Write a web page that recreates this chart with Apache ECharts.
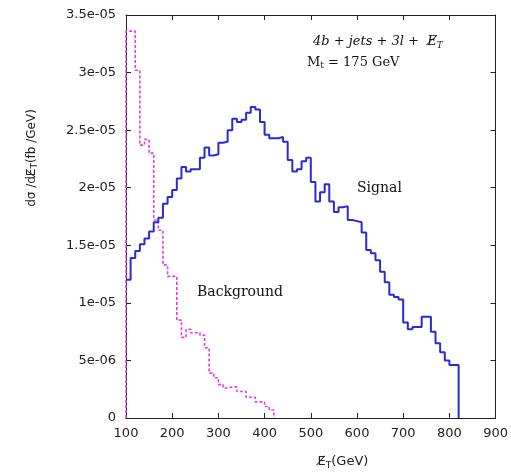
<!DOCTYPE html>
<html>
<head>
<meta charset="utf-8">
<script src="https://cdn.jsdelivr.net/npm/echarts@6/dist/echarts.min.js"></script>
<style>
html,body{margin:0;padding:0;background:#fff;}
#chart{width:511px;height:473px;}
</style>
</head>
<body>
<div id="chart"></div>
<script>
// ---- data (values in units of 1e-5 fb/GeV) ----
const xTicks = [100, 200, 300, 400, 500, 600, 700, 800, 900];
const yTickLabels = ['0', '5e-06', '1e-05', '1.5e-05', '2e-05', '2.5e-05', '3e-05', '3.5e-05'];

const signalBinStart = [100,110,120,130,140,150,160,170,180,190,
  200,210,220,230,240,250,260,270,280,290,
  300,310,320,330,340,350,360,370,380,390,
  400,410,420,430,440,450,460,470,480,490,
  500,510,520,530,540,550,560,570,580,590,
  600,610,620,630,640,650,660,670,680,690,
  700,710,720,730,740,750,760,770,780,790,
  800,810];
const signalEnd = 820;
const signal = [1.20,1.39,1.45,1.51,1.56,1.62,1.70,1.74,1.86,1.92,
  1.98,2.08,2.18,2.14,2.16,2.16,2.26,2.35,2.28,2.29,
  2.39,2.40,2.50,2.60,2.57,2.59,2.65,2.70,2.68,2.57,
  2.46,2.43,2.43,2.44,2.40,2.24,2.14,2.16,2.23,2.26,
  2.05,1.88,1.96,2.03,1.88,1.79,1.83,1.84,1.72,1.71,
  1.70,1.61,1.46,1.43,1.37,1.27,1.18,1.07,1.05,1.03,
  0.83,0.77,0.79,0.79,0.88,0.88,0.75,0.65,0.57,0.50,
  0.46,0.46];

const bgBinStart = [100,110,120,130,140,150,160,170,180,190,
  200,210,220,230,240,250,260,270,280,290,
  300,310,320,330,340,350,360,370,380,390,
  400,410];
const bgEnd = 420;
const background = [3.36,3.36,3.02,2.37,2.42,2.30,1.72,1.63,1.33,1.23,
  1.23,0.85,0.70,0.77,0.74,0.74,0.72,0.61,0.39,0.35,
  0.29,0.26,0.27,0.27,0.23,0.23,0.18,0.18,0.14,0.14,
  0.10,0.07];

// ---- build step data ----
function histData(starts, vals, end, fromZero) {
  const d = [];
  if (fromZero) d.push([starts[0], 0]);
  starts.forEach((x, i) => d.push([x, vals[i]]));
  d.push([end, vals[vals.length - 1]]);
  d.push([end, 0]);
  return d;
}

const axisCol = '#222';
const chart = echarts.init(document.getElementById('chart'), null, {renderer: 'canvas'});
const baseX = {
  type: 'value', min: xTicks[0], max: xTicks[xTicks.length - 1], interval: 100,
  axisLine: {show: true, onZero: false, lineStyle: {color: axisCol, width: 1}},
  axisTick: {show: true, inside: true, length: 5, lineStyle: {color: axisCol}},
  splitLine: {show: false}
};
const baseY = {
  type: 'value', min: 0, max: 3.5, interval: 0.5,
  axisLine: {show: true, onZero: false, lineStyle: {color: axisCol, width: 1}},
  axisTick: {show: true, inside: true, length: 5, lineStyle: {color: axisCol}},
  splitLine: {show: false}
};

chart.setOption({
  animation: false,
  backgroundColor: '#fff',
  grid: {left: 126, right: 15, top: 15, bottom: 55},
  xAxis: [
    Object.assign({}, baseX, {position: 'bottom',
      axisLabel: {show: true, margin: 9, color: '#222', fontFamily: 'DejaVu Sans', fontSize: 13}}),
    Object.assign({}, baseX, {position: 'top', axisLabel: {show: false}})
  ],
  yAxis: [
    Object.assign({}, baseY, {position: 'left',
      axisLabel: {show: true, margin: 10, color: '#222', fontFamily: 'DejaVu Sans', fontSize: 13,
        formatter: v => yTickLabels[Math.round(v / 0.5)]}}),
    Object.assign({}, baseY, {position: 'right', axisLabel: {show: false}})
  ],
  series: [
    {
      name: 'Background', type: 'line', step: 'end', symbol: 'none',
      data: histData(bgBinStart, background, bgEnd, true),
      lineStyle: {color: '#e040e0', width: 1.6, type: [3, 2]},
      z: 2
    },
    {
      name: 'Signal', type: 'line', step: 'end', symbol: 'none',
      data: histData(signalBinStart, signal, signalEnd, false),
      lineStyle: {color: '#2a2ad6', width: 2},
      z: 3
    }
  ],
  graphic: [
    {type: 'text', x: 32, y: 158, rotation: Math.PI / 2,
      style: {text: '{n|dσ /dE̸}{s|T}{n|(fb /GeV)}', align: 'center', verticalAlign: 'middle',
        rich: {n: {fontFamily: 'DejaVu Sans', fontSize: 12, fill: '#222'},
               s: {fontFamily: 'DejaVu Sans', fontSize: 9, fill: '#222', padding: [6, 0, 0, 0]}}}},
    {type: 'text', x: 343, y: 462,
      style: {text: '{n|E̸}{s|T}{n|(GeV)}', align: 'center', verticalAlign: 'middle',
        rich: {n: {fontFamily: 'DejaVu Sans', fontSize: 13, fill: '#222'},
               s: {fontFamily: 'DejaVu Sans', fontSize: 9, fill: '#222', padding: [7, 0, 0, 0]}}}},
    {type: 'text', x: 313, y: 42,
      style: {text: '{i|4b + jets + 3l +  E̸}{s|T}', align: 'left', verticalAlign: 'middle',
        rich: {i: {fontFamily: 'DejaVu Serif', fontStyle: 'italic', fontSize: 13, fill: '#111'},
               s: {fontFamily: 'DejaVu Serif', fontStyle: 'italic', fontSize: 9, fill: '#111', padding: [7, 0, 0, 0]}}}},
    {type: 'text', x: 307, y: 63,
      style: {text: '{n|M}{s|t}{n| = 175 GeV}', align: 'left', verticalAlign: 'middle',
        rich: {n: {fontFamily: 'DejaVu Serif', fontSize: 13, fill: '#111'},
               s: {fontFamily: 'DejaVu Serif', fontSize: 9, fill: '#111', padding: [6, 0, 0, 0]}}}},
    {type: 'text', x: 357, y: 188,
      style: {text: 'Signal', align: 'left', verticalAlign: 'middle',
        fontFamily: 'DejaVu Serif', fontSize: 14, fill: '#111'}},
    {type: 'text', x: 197, y: 292,
      style: {text: 'Background', align: 'left', verticalAlign: 'middle',
        fontFamily: 'DejaVu Serif', fontSize: 14, fill: '#111'}}
  ]
});
</script>
</body>
</html>
